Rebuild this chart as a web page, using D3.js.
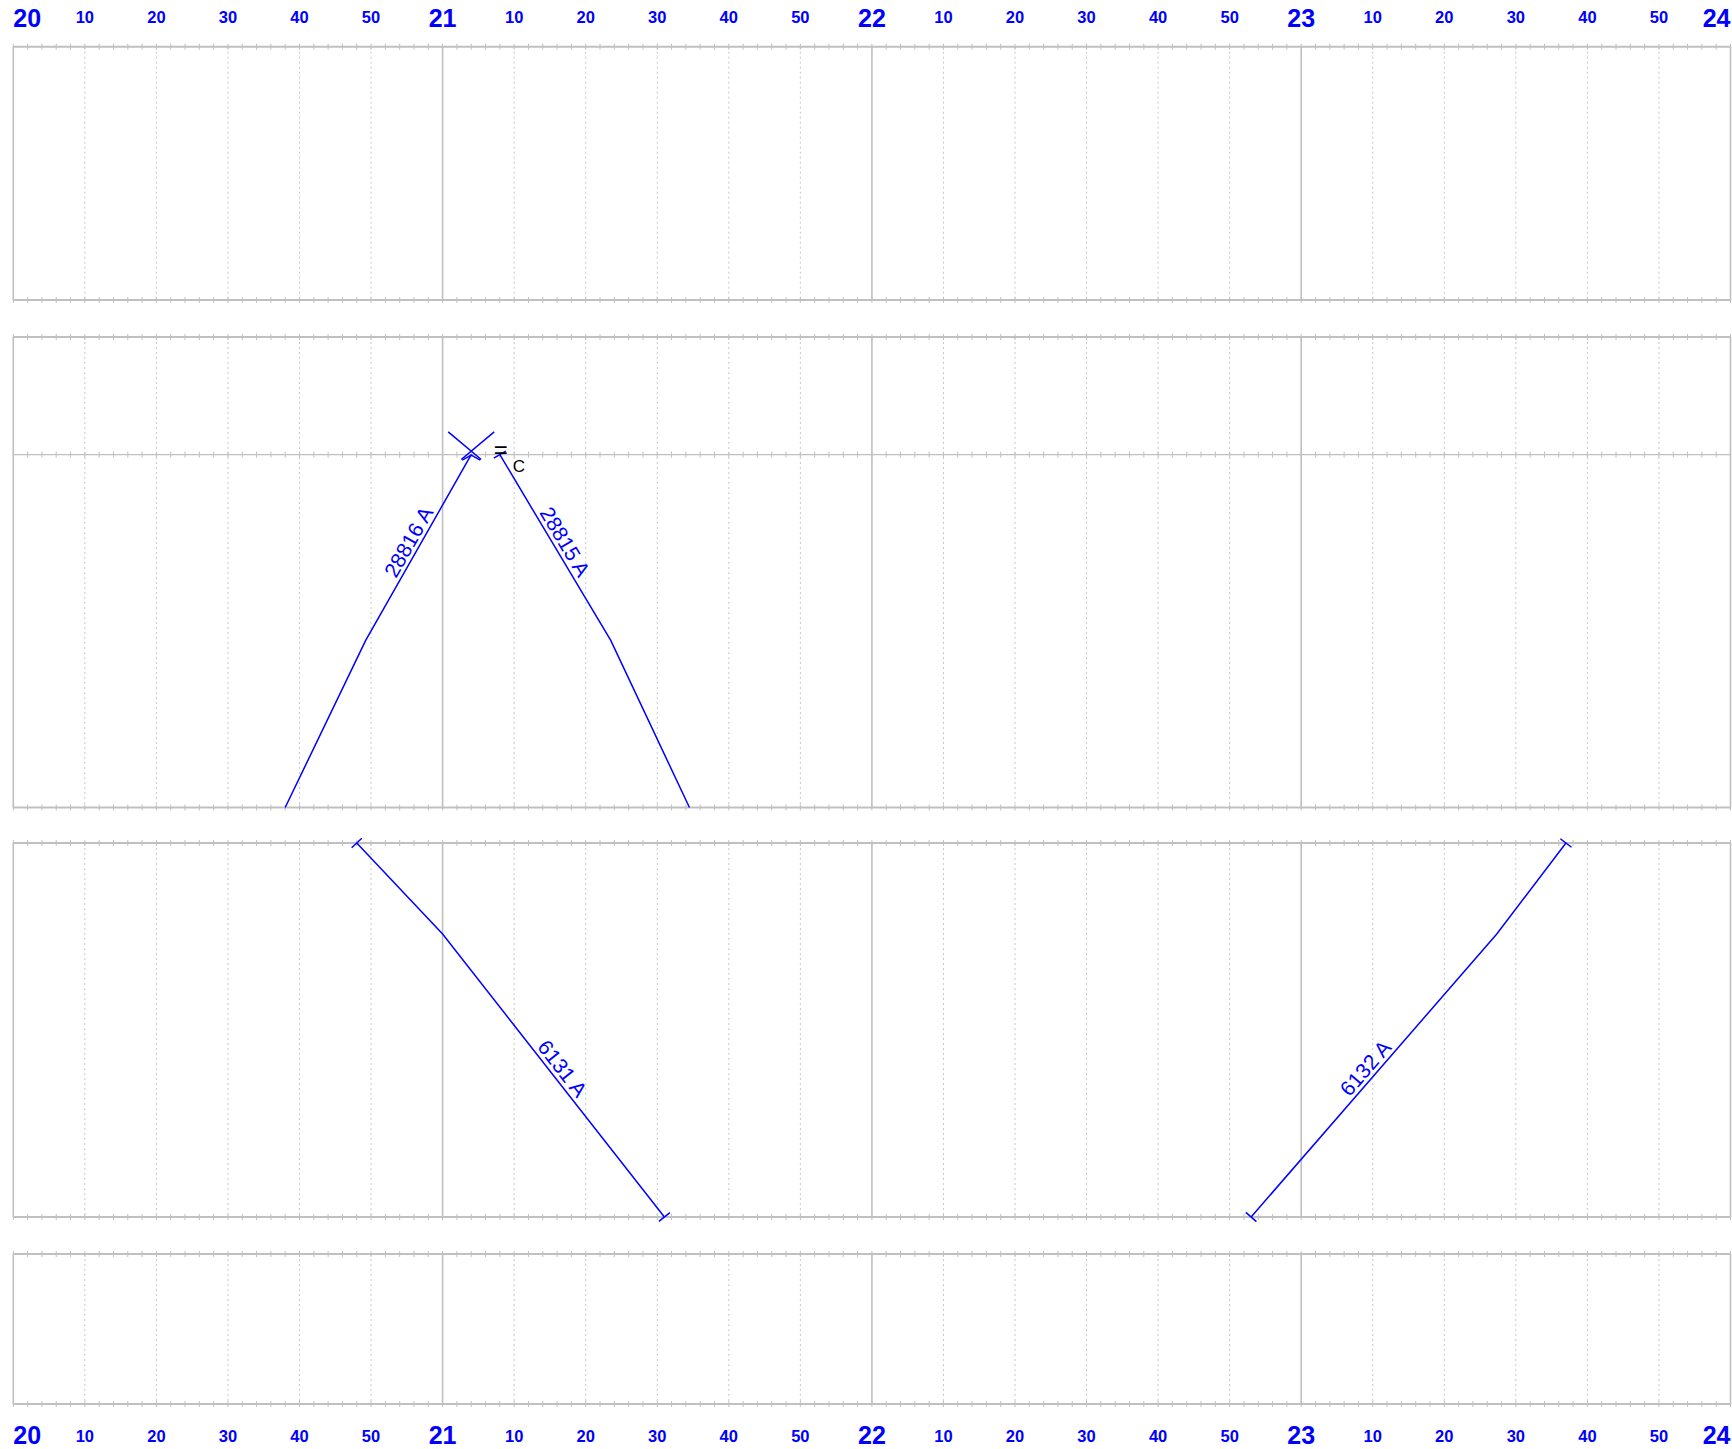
<!DOCTYPE html>
<html>
<head>
<meta charset="utf-8">
<script src="https://cdn.jsdelivr.net/npm/d3@7"></script>
<style>
  html, body { margin: 0; padding: 0; background: #fff; }
  svg { display: block; font-family: 'Liberation Sans', Arial, sans-serif; }
</style>
</head>
<body>
<svg id="graph" width="1732" height="1449"></svg>
<script>
// hours shown along the top and bottom, minute labels between them
const hours = [20, 21, 22, 23, 24]
const minuteLabels = [10, 20, 30, 40, 50]

// station mileage of each section (one section per panel)
const sectionKm = [[0, 20], [0, 10, 25.8, 40], [0, 7.3, 30], [0, 20]]
const stationShown = [[true, true], [true, true, false, true], [true, false, true], [true, true]]

// trains
const trainNames = ['28816 A', '28815 A', '6131 A', '6132 A']
const trainSection = [1, 1, 2, 2]
const trainTimes = [
  ['20:38:00', '20:49:15', '21:04:00'],
  ['21:08:00', '21:23:30', '21:34:30'],
  ['20:48:00', '21:00:00', '21:31:00'],
  ['22:53:00', '23:27:20', '23:37:00']
]
const trainKm = [
  [40, 25.8, 10],
  [10, 25.8, 40],
  [0, 7.3, 30],
  [30, 7.3, 0]
]
const startMark = [false, true, true, true]
const endMark = [false, false, true, true]

// ---- layout
const panelTop = [46.7, 337, 843, 1254]
const panelBottom = [300, 807.5, 1217, 1404]
const left = 13.3
const right = 1730.5
const blue = '#0000ff'
const grey = '#c0c0c0'

const svg = d3.select('#graph')

function toMinutes (s) {
  const p = s.split(':').map(Number)
  return p[0] * 60 + p[1] + (p[2] || 0) / 60
}

const x = d3.scaleLinear().domain([20 * 60, 24 * 60]).range([left, right])
const yScales = sectionKm.map((km, i) =>
  d3.scaleLinear().domain([km[0], km[km.length - 1]]).range([panelTop[i], panelBottom[i]]))

const minuteTicks = d3.range(20 * 60, 24 * 60 + 1, 2)
const tenTicks = d3.range(20 * 60, 24 * 60 + 1, 10).filter(t => t % 60 !== 0)
const hourTicks = hours.map(h => h * 60)

// ---- panels
sectionKm.forEach((km, i) => {
  const g = svg.append('g').attr('class', 'panel')
  const y = yScales[i]

  // ten minute dotted lines
  g.selectAll('.ten').data(tenTicks).enter().append('line')
    .attr('x1', d => x(d)).attr('x2', d => x(d))
    .attr('y1', panelTop[i]).attr('y2', panelBottom[i])
    .style('stroke', '#c8c8c8').style('stroke-width', 1)
    .style('stroke-dasharray', '2,3')

  // hour lines
  g.selectAll('.hour').data(hourTicks).enter().append('line')
    .attr('x1', d => x(d)).attr('x2', d => x(d))
    .attr('y1', panelTop[i]).attr('y2', panelBottom[i])
    .style('stroke', grey).style('stroke-width', 1.6)

  // station lines with two minute ticks
  km.forEach((k, j) => {
    if (!stationShown[i][j]) return
    const yy = y(k)
    const edge = j === 0 || j === km.length - 1
    g.append('line')
      .attr('x1', left).attr('x2', right).attr('y1', yy).attr('y2', yy)
      .style('stroke', grey).style('stroke-width', edge ? 2 : 1.2)
    g.selectAll('.tk' + j).data(minuteTicks).enter().append('line')
      .attr('x1', d => x(d)).attr('x2', d => x(d))
      .attr('y1', yy - 3).attr('y2', yy + 3)
      .style('stroke', grey).style('stroke-width', 1)
  })
})

// ---- time labels, top and bottom
function timeLabels (hourBase, minBase) {
  hours.forEach((h, i) => {
    svg.append('text')
      .attr('x', x(h * 60))
      .attr('y', hourBase)
      .attr('text-anchor', i === 0 ? 'start' : (i === hours.length - 1 ? 'end' : 'middle'))
      .style('font-size', '25px').style('font-weight', 'bold').style('fill', blue)
      .text(h)
    if (i === hours.length - 1) return
    minuteLabels.forEach(m => {
      svg.append('text')
        .attr('x', x(h * 60 + m))
        .attr('y', minBase)
        .attr('text-anchor', 'middle')
        .style('font-size', '16.5px').style('font-weight', 'bold').style('fill', blue)
        .text(m)
    })
  })
}
timeLabels(26.5, 23.3)
timeLabels(1444, 1442)

// ---- trains
const trainLayer = svg.append('g')
const line = d3.line().x(d => d[0]).y(d => d[1])

function unit (a, b) {
  const dx = b[0] - a[0]
  const dy = b[1] - a[1]
  const len = Math.hypot(dx, dy)
  return [dx / len, dy / len]
}

// short stroke through p along direction u
function stroke (p, u, before, after) {
  trainLayer.append('line')
    .attr('x1', p[0] - before * u[0]).attr('y1', p[1] - before * u[1])
    .attr('x2', p[0] + after * u[0]).attr('y2', p[1] + after * u[1])
    .style('stroke', blue).style('stroke-width', 1.5)
}

// start / end tick, square to the train line
function tick (p, dir, before, after) {
  stroke(p, [-dir[1], dir[0]], before, after)
}

const trainPts = trainNames.map((name, i) => {
  const y = yScales[trainSection[i]]
  return trainTimes[i].map((t, j) => [x(toMinutes(t)), y(trainKm[i][j])])
})

trainNames.forEach((name, i) => {
  const pts = trainPts[i]
  trainLayer.append('path')
    .attr('d', line(pts))
    .style('fill', 'none').style('stroke', blue).style('stroke-width', 1.5)

  const n = pts.length
  if (startMark[i]) tick(pts[0], unit(pts[0], pts[1]), 7, 7)
  if (endMark[i]) tick(pts[n - 1], unit(pts[n - 2], pts[n - 1]), 7, 7)

  // label on the longest segment
  let best = 0
  let bestLen = 0
  for (let j = 0; j < n - 1; j++) {
    const len = Math.hypot(pts[j + 1][0] - pts[j][0], pts[j + 1][1] - pts[j][1])
    if (len > bestLen) { bestLen = len; best = j }
  }
  let a = pts[best]
  let b = pts[best + 1]
  if (b[0] < a[0]) { const tmp = a; a = b; b = tmp }
  const ang = Math.atan2(b[1] - a[1], b[0] - a[0]) * 180 / Math.PI
  const mx = (a[0] + b[0]) / 2
  const my = (a[1] + b[1]) / 2
  trainLayer.append('text')
    .attr('transform', `translate(${mx},${my}) rotate(${ang})`)
    .attr('text-anchor', 'middle')
    .attr('dy', -4)
    .style('font-size', '21px').style('fill', blue)
    .text(name)
})

// turnaround marks: 28816 ends, 28815 starts at the same station
{
  const arr = trainPts[0]
  const dep = trainPts[1]
  const p = [arr[arr.length - 1][0], arr[arr.length - 1][1] - 3.5]
  const rad = Math.PI / 180
  stroke(p, [Math.cos(40 * rad), Math.sin(40 * rad)], 30, 13)
  stroke(p, [Math.cos(140 * rad), Math.sin(140 * rad)], 30, 13)
  trainLayer.append('path')
    .attr('d', line([[p[0] - 9, p[1] + 9], [p[0], p[1] + 4], [p[0] + 9, p[1] + 9]]))
    .style('fill', 'none').style('stroke', blue).style('stroke-width', 1.5)

  const s = dep[0]
  svg.append('text').attr('x', s[0] + 1).attr('y', s[1] + 3)
    .attr('text-anchor', 'middle')
    .style('font-size', '24px').style('fill', '#000').text('=')
  svg.append('text').attr('x', s[0] + 13).attr('y', s[1] + 17)
    .style('font-size', '17px').style('fill', '#000').text('C')
}
</script>
</body>
</html>
